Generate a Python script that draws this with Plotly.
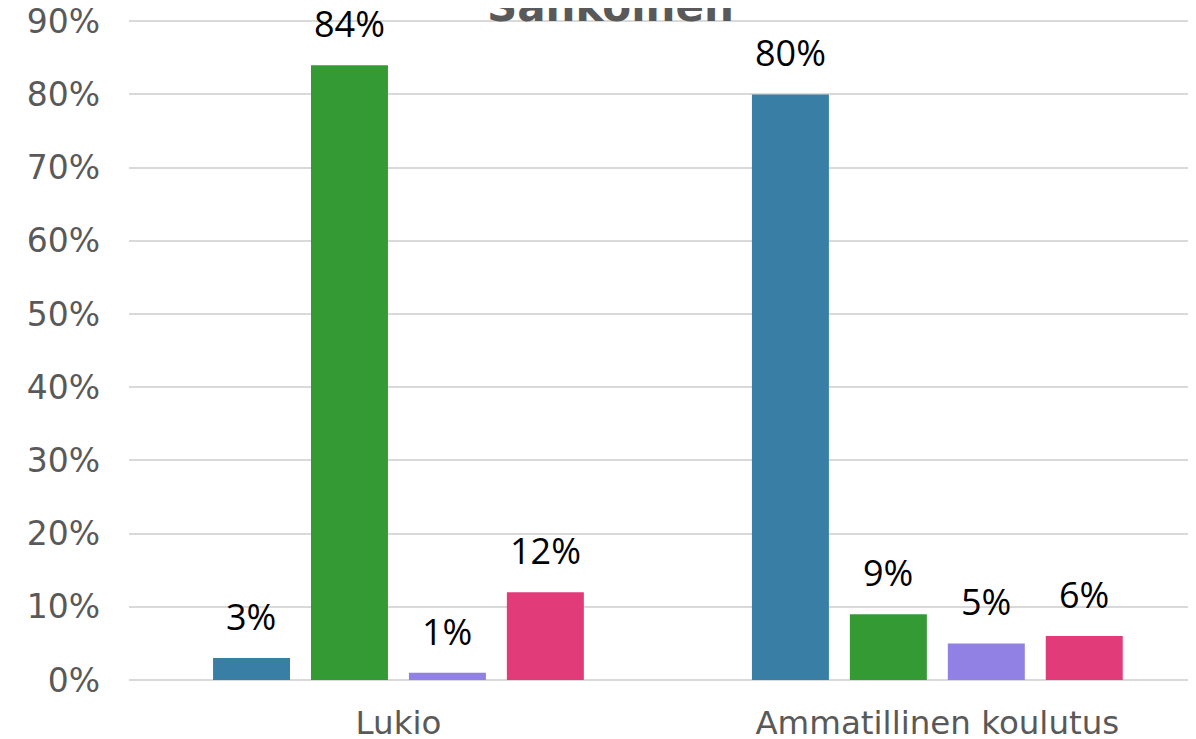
import plotly.graph_objects as go

categories = ["Lukio", "Ammatillinen koulutus"]
series_names = ["Ammatillinen koulutus", "Lukio", "Kaksoistutkinto", "Muu"]
values = [
    [0.03, 0.80],
    [0.84, 0.09],
    [0.01, 0.05],
    [0.12, 0.06],
]
colors = ["#387ea5", "#349a34", "#9181e4", "#e13b7a"]
y_ticks = [0, 0.1, 0.2, 0.3, 0.4, 0.5, 0.6, 0.7, 0.8, 0.9]
title_text = "Sähköinen"

# the page body has an 8px margin; compensate so the plot lands where the reference has it
BODY = 8
W, H = 1196 - BODY, 739 - BODY
ML, MR, MT, MB = 129 - BODY, 0, 18 - BODY, 59

fig = go.Figure()
for name, vals, col in zip(series_names, values, colors):
    fig.add_trace(go.Bar(
        x=categories, y=vals, name=name,
        marker=dict(color=col, line=dict(width=0)),
        hoverinfo="skip",
    ))

# data labels above bars
slot_px = 98
annotations = []
for i, vals in enumerate(values):
    for c, v in zip(categories, vals):
        annotations.append(dict(
            x=c, y=v, xref="x", yref="y",
            text=f"{round(v*100)}%", showarrow=False,
            xanchor="center", yanchor="bottom",
            xshift=(i - 1.5) * slot_px, yshift=15,
            font=dict(family="Open Sans", size=36, color="#000000"),
        ))

plot_w = W - ML - MR
plot_h = H - MB - MT
annotations.append(dict(
    x=(610 - 129) / plot_w, y=(680 - 7) / plot_h,
    xref="paper", yref="paper", text=f"<b>{title_text}</b>", showarrow=False,
    xanchor="center", yanchor="middle",
    font=dict(family="DejaVu Sans", size=42, color="#595959"),
))

fig.update_layout(
    width=W, height=H,
    margin=dict(l=ML, r=MR, t=MT, b=MB, pad=0, autoexpand=False),
    paper_bgcolor="white", plot_bgcolor="white",
    barmode="group", bargap=0.273, bargroupgap=0.214,
    showlegend=False,
    annotations=annotations,
    font=dict(family="DejaVu Sans", color="#595959"),
)
fig.update_xaxes(
    range=[-0.5, 1.48], showgrid=False, showline=False, zeroline=False,
    tickfont=dict(family="DejaVu Sans", size=32.5, color="#595959"),
    ticks="", ticklabelstandoff=20, automargin=False,
)
fig.update_yaxes(
    range=[0, 0.9045], tickvals=y_ticks, tickformat=".0%",
    showgrid=True, gridcolor="#d9d9d9", gridwidth=2,
    zeroline=True, zerolinecolor="#d9d9d9", zerolinewidth=2,
    tickfont=dict(family="DejaVu Sans", size=33, color="#595959"),
    ticks="", ticklabelstandoff=28, ticklabeloverflow="allow", automargin=False,
)

fig.write_html("out.html")
